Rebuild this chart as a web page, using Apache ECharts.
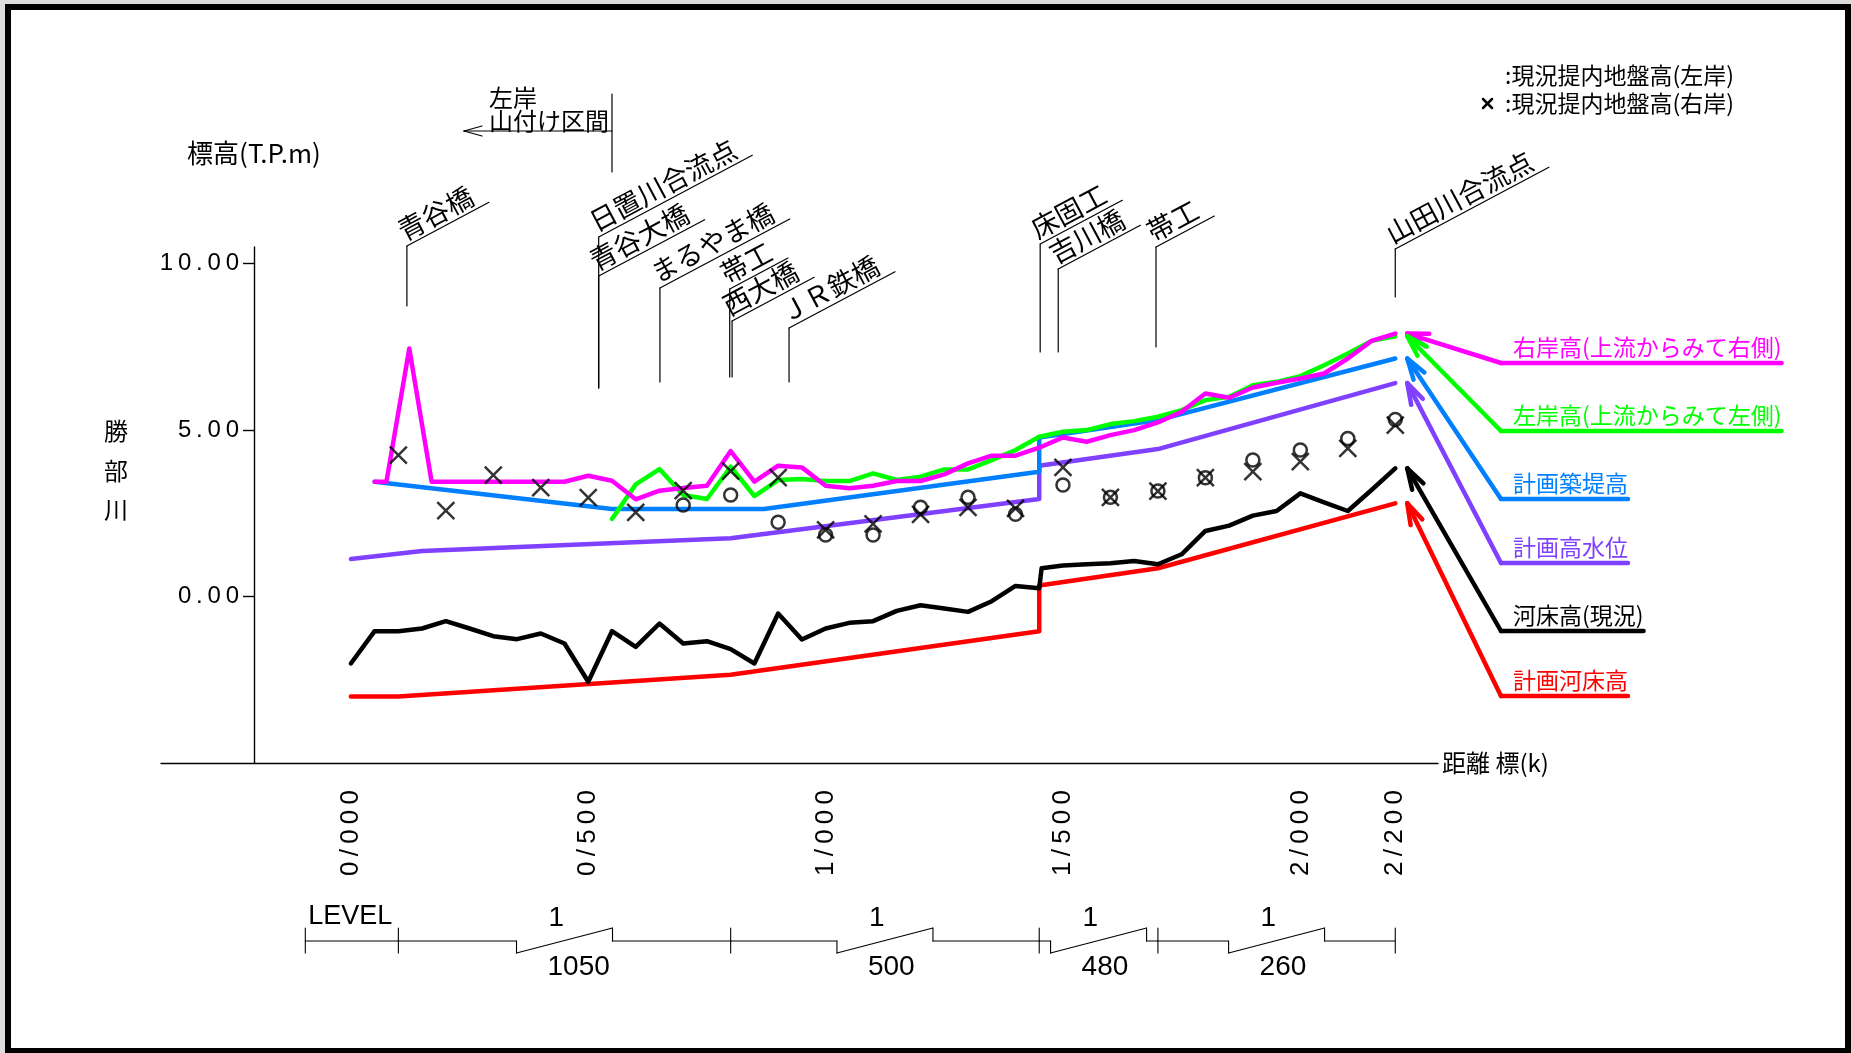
<!DOCTYPE html>
<html>
<head>
<meta charset="utf-8">
<script src="https://cdn.jsdelivr.net/npm/echarts@6/dist/echarts.min.js"></script>
<style>
  html, body { margin: 0; padding: 0; background: #fff; }
  #c { width: 1852px; height: 1053px; }
</style>
</head>
<body>
<div id="c"></div>
<script>
// ---- 縦断データ: [距離標 (m), 標高 (T.P.m)] ----
const bankRight = [[50,3.45],[75,3.45],[123,7.45],[170,3.45],[450,3.45],[500,3.63],[550,3.48],[600,2.92],[650,3.18],[700,3.26],[750,3.33],[800,4.37],[850,3.45],[900,3.93],[950,3.88],[1000,3.33],[1050,3.25],[1100,3.33],[1150,3.47],[1200,3.47],[1250,3.67],[1300,4.0],[1350,4.23],[1400,4.23],[1450,4.47],[1500,4.78],[1550,4.65],[1600,4.85],[1650,5.0],[1700,5.23],[1750,5.55],[1800,6.1],[1850,5.97],[1900,6.28],[1950,6.42],[2000,6.55],[2050,6.7],[2100,7.15],[2150,7.68],[2200,7.9]];
const bankLeft = [[550,2.33],[600,3.37],[650,3.83],[700,3.05],[750,2.93],[800,3.9],[850,3.02],[900,3.5],[950,3.53],[1000,3.47],[1050,3.47],[1100,3.7],[1150,3.5],[1200,3.6],[1250,3.82],[1300,3.82],[1350,4.1],[1400,4.4],[1450,4.8],[1500,4.95],[1550,5.0],[1600,5.18],[1650,5.27],[1700,5.4],[1750,5.6],[1800,5.9],[1850,6.0],[1900,6.35],[1950,6.45],[2000,6.62],[2050,6.95],[2100,7.3],[2150,7.68],[2200,7.82]];
const dikePlan = [[50,3.45],[550,2.63],[870,2.63],[1450,3.75],[1450,4.78],[1700,5.3],[2200,7.15]];
const hwlPlan = [[0,1.13],[150,1.37],[800,1.75],[1450,2.93],[1450,3.93],[1700,4.43],[2200,6.41]];
const bedNow = [[0,-2.01],[50,-1.04],[100,-1.04],[150,-0.96],[200,-0.74],[250,-0.96],[300,-1.19],[350,-1.28],[400,-1.11],[450,-1.41],[500,-2.56],[550,-1.04],[600,-1.51],[650,-0.81],[700,-1.41],[750,-1.34],[800,-1.58],[850,-2.01],[900,-0.51],[950,-1.29],[1000,-0.96],[1050,-0.79],[1100,-0.74],[1150,-0.43],[1200,-0.26],[1250,-0.36],[1300,-0.46],[1350,-0.14],[1400,0.32],[1450,0.25],[1455,0.85],[1500,0.93],[1550,0.97],[1600,1.0],[1650,1.07],[1700,0.97],[1750,1.27],[1800,1.97],[1850,2.13],[1900,2.43],[1950,2.57],[2000,3.1],[2050,2.83],[2100,2.57],[2150,3.2],[2200,3.85]];
const bedPlan = [[0,-3.0],[100,-3.0],[800,-2.35],[1450,-1.04],[1450,0.33],[1700,0.85],[2200,2.8]];

// 現況堤内地盤高
const groundLeft = [[700,2.75],[800,3.05],[900,2.23],[1000,1.85],[1100,1.85],[1200,2.68],[1300,2.98],[1400,2.47],[1500,3.35],[1600,2.98],[1700,3.17],[1800,3.57],[1900,4.1],[2000,4.4],[2100,4.75],[2200,5.32]];
const groundRight = [[100,4.25],[200,2.58],[300,3.65],[400,3.27],[500,2.97],[600,2.53],[700,3.18],[800,3.77],[900,3.57],[1000,2.0],[1100,2.18],[1200,2.47],[1300,2.68],[1400,2.65],[1500,3.88],[1600,2.98],[1700,3.17],[1800,3.57],[1900,3.75],[2000,4.05],[2100,4.45],[2200,5.15]];

// 軸目盛 (文字間は細いスペース)
const elevTicks = [0, 5, 10];
const elevTickLabels = ['0\u2009.\u20090\u20090', '5\u2009.\u20090\u20090', '1\u20090\u2009.\u20090\u20090'];
const stationTicks = [0, 500, 1000, 1500, 2000, 2200];
const stationTickLabels = ['0\u2009/\u20090\u20090\u20090', '0\u2009/\u20095\u20090\u20090', '1\u2009/\u20090\u20090\u20090', '1\u2009/\u20095\u20090\u20090', '2\u2009/\u20090\u20090\u20090', '2\u2009/\u20092\u20090\u20090'];

// 構造物・地点 (距離標 m)
const landmarkNames = ['青谷橋', '日置川合流点', '青谷大橋', 'まるやま橋', '帯工', '西大橋', 'ＪＲ鉄橋', '床固工', '吉川橋', '帯工', '山田川合流点'];
const landmarkDist = [118, 522, 522, 651, 798, 803, 923, 1452, 1490, 1696, 2200];

// 河床勾配 (区間境界 m と勾配 1/n)
const gradeBreaks = [-96, 100, 800, 1450, 1700, 2200];
const gradeDenoms = ['LEVEL', '1050', '500', '480', '260'];

// 凡例
const legendLabels = ['右岸高(上流からみて右側)', '左岸高(上流からみて左側)', '計画築堤高', '計画高水位', '河床高(現況)', '計画河床高'];

// ---- 描画設定 ----
const COLORS = ['#ff00ff', '#00ff00', '#0080ff', '#8040ff', '#000000', '#ff0000'];
const SERIES_DATA = [bankRight, bankLeft, dikePlan, hwlPlan, bedNow, bedPlan];
const JP = "'Noto Sans CJK JP', sans-serif";
const LATIN = "'Liberation Sans', Arial, sans-serif";

const chart = echarts.init(document.getElementById('c'), null, { renderer: 'canvas', width: 1852, height: 1053 });

function lineSeries(data, color, z) {
  return {
    type: 'line', data: data, symbol: 'none', silent: true, z: z,
    lineStyle: { color: color, width: 4.5, cap: 'round', join: 'round' }
  };
}

const option = {
  animation: false,
  backgroundColor: '#dcdcdc',
  grid: { left: 161, top: 247, width: 1277, height: 516, containLabel: false },
  xAxis: {
    type: 'value', min: -400, max: 2290,
    axisLine: { show: true, onZero: false, lineStyle: { color: '#000', width: 1.4 } },
    axisTick: { show: false },
    splitLine: { show: false },
    axisLabel: {
      customValues: stationTicks, rotate: 90, margin: 27,
      formatter: v => stationTickLabels[stationTicks.indexOf(v)] || '',
      fontFamily: LATIN, fontSize: 26, color: '#000'
    },
    name: '距離 標(k)', nameLocation: 'end', nameGap: 4,
    nameTextStyle: { fontFamily: JP, fontSize: 24, color: '#000', verticalAlign: 'middle', align: 'left' }
  },
  yAxis: {
    type: 'value', min: -5, max: 10.5, offset: -93, position: 'left',
    axisLine: { show: true, onZero: false, lineStyle: { color: '#000', width: 1.4 } },
    axisTick: { show: true, length: 11, customValues: elevTicks, lineStyle: { color: '#000', width: 1.4 } },
    splitLine: { show: false },
    axisLabel: {
      customValues: elevTicks, margin: 15,
      formatter: v => elevTickLabels[elevTicks.indexOf(v)] || '',
      fontFamily: LATIN, fontSize: 24, color: '#000'
    },
    name: '標高(T.P.m)', nameLocation: 'end', nameGap: 94,
    nameTextStyle: { fontFamily: JP, fontSize: 26, color: '#000', verticalAlign: 'middle', align: 'center' }
  },
  series: [
    lineSeries(bedPlan, COLORS[5], 3),
    lineSeries(bedNow, COLORS[4], 4),
    lineSeries(hwlPlan, COLORS[3], 5),
    lineSeries(dikePlan, COLORS[2], 6),
    lineSeries(bankLeft, COLORS[1], 7),
    lineSeries(bankRight, COLORS[0], 8),
    {
      type: 'scatter', data: groundLeft, symbol: 'circle', symbolSize: 13, z: 10, silent: true,
      itemStyle: { color: 'rgba(0,0,0,0)', borderColor: '#000', borderWidth: 2.5 }
    },
    {
      type: 'scatter', data: groundRight, symbol: 'path://M0,0L10,10M10,0L0,10', symbolSize: 17, z: 10, silent: true,
      itemStyle: { color: 'none', borderColor: '#000', borderWidth: 2.5 }
    }
  ]
};
chart.setOption(option);

// ---- 注記 (地点名・凡例・勾配表) ----
const P = (d, e) => chart.convertToPixel({ gridIndex: 0 }, [d, e]);
const mctx = document.createElement('canvas').getContext('2d');
function textW(t, font) { mctx.font = font; return mctx.measureText(t).width; }

const g = [];
function seg(x1, y1, x2, y2, color, w, z) {
  g.push({ type: 'line', silent: true, z: z || 20, shape: { x1, y1, x2, y2 },
    style: { stroke: color || '#000', lineWidth: w || 1.2, lineCap: 'round' } });
}
function label(t, x, y, font, color, align, valign, rot) {
  g.push({ type: 'text', silent: true, z: 20, x: x, y: y, rotation: rot || 0,
    style: { text: t, font: font, fill: color || '#000',
      align: align || 'left', verticalAlign: valign || 'middle',
      textAlign: align || 'left', textVerticalAlign: valign || 'middle' } });
}

// 図枠
g.push({ type: 'rect', silent: true, z: -5, shape: { x: 8, y: 7, width: 1840, height: 1044 }, style: { fill: '#fff' } });
g.push({ type: 'rect', silent: true, z: 30, shape: { x: 8, y: 7, width: 1840, height: 1044 }, style: { fill: 'none', stroke: '#000', lineWidth: 6 } });

// 河川名
['勝', '部', '川'].forEach((ch, i) => label(ch, 116, 431 + i * 39.5, '24px ' + JP, '#000', 'center', 'middle'));

// 左岸 山付け区間
const yamaX = P(550, 0)[0];
seg(yamaX, 94, yamaX, 172, '#000', 1.2);
seg(464, 131, yamaX, 131, '#000', 1.2);
seg(464, 131, 482, 126, '#000', 1.2);
seg(464, 131, 482, 136, '#000', 1.2);
label('左岸', 489, 98, '24px ' + JP);
label('山付け区間', 489, 121, '24px ' + JP);

// 地点名 (引出線)
const leaderTop = [246, 237, 276, 288, 289, 321, 328, 244, 269, 247, 249];
const leaderBottom = [306, 388, 388, 382, 377, 377, 382, 352, 352, 347, 297];
const ANG = 28 * Math.PI / 180;
const lmFont = '27px ' + JP;
landmarkNames.forEach((name, i) => {
  const x = P(landmarkDist[i], 0)[0];
  const top = leaderTop[i];
  seg(x, top, x, leaderBottom[i], '#000', 1.2);
  const L = textW(name, lmFont) + 12;
  seg(x, top, x + L * Math.cos(ANG), top - L * Math.sin(ANG), '#000', 1.2);
  label(name, x - 2 * Math.sin(ANG), top - 2 * Math.cos(ANG), lmFont, '#000', 'left', 'bottom', ANG);
});

// 凡例 (現況堤内地盤高)
label(':現況提内地盤高(左岸)', 1505, 75, '23px ' + JP);
label(':現況提内地盤高(右岸)', 1505, 103, '23px ' + JP);
seg(1483, 99, 1492, 108, '#000', 2.5);
seg(1492, 99, 1483, 108, '#000', 2.5);

// 凡例 (矢印付き)
const legendUnderY = [363, 431, 499, 563, 631, 696];
const legFont = '23px ' + JP;
legendLabels.forEach((t, i) => {
  const c = COLORS[i];
  const d = SERIES_DATA[i];
  const end = P(d[d.length - 1][0], d[d.length - 1][1]);
  const tipX = end[0] + 12, tipY = end[1];
  const uy = legendUnderY[i];
  const w = textW(t, legFont);
  label(t, 1513, uy - 16, legFont, c, 'left', 'middle');
  seg(1501, uy, 1513 + w, uy, c, 4.5);
  seg(1501, uy, tipX, tipY, c, 4.5);
  const a = Math.atan2(uy - tipY, 1501 - tipX);
  const hl = 22, hs = 0.3;
  seg(tipX, tipY, tipX + hl * Math.cos(a + hs), tipY + hl * Math.sin(a + hs), c, 4.5);
  seg(tipX, tipY, tipX + hl * Math.cos(a - hs), tipY + hl * Math.sin(a - hs), c, 4.5);
});

// 河床勾配表
const TY = 941, TT = 928, TB = 953;
const gx = gradeBreaks.map(d => P(d, 0)[0]);
gx.forEach(x => seg(x, TT, x, TB, '#000', 1.1));
seg(gx[0], TY, gx[1], TY, '#000', 1.1);
label(gradeDenoms[0], gx[0] + 3, 917, '27px ' + LATIN);
for (let i = 1; i < gx.length - 1; i++) {
  const a = gx[i], b = gx[i + 1], c = (a + b) / 2;
  const s1 = c - 48, s2 = c + 48;
  seg(a, TY, s1, TY, '#000', 1.1);
  seg(s1, TY, s1, TB, '#000', 1.1);
  seg(s1, TB, s2, TT, '#000', 1.1);
  seg(s2, TT, s2, TY, '#000', 1.1);
  seg(s2, TY, b, TY, '#000', 1.1);
  label('1', c - 16, 918, '28px ' + LATIN);
  label(gradeDenoms[i], c - 17, 967, '28px ' + LATIN);
}

chart.setOption({ graphic: { elements: g } });
</script>
</body>
</html>
